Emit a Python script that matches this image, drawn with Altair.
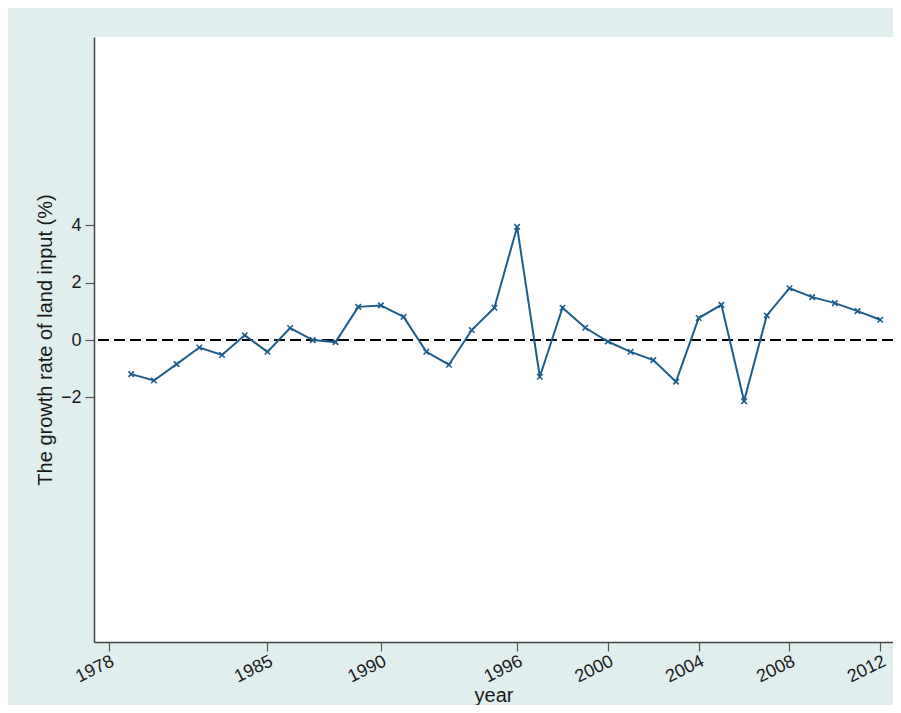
import altair as alt
import pandas as pd

years = list(range(1979, 2013))
growth = [-1.19, -1.41, -0.84, -0.26, -0.52, 0.17, -0.41, 0.42, 0.0, -0.07,
          1.16, 1.21, 0.81, -0.41, -0.86, 0.35, 1.13, 3.95, -1.28, 1.13,
          0.43, -0.05, -0.41, -0.70, -1.45, 0.77, 1.23, -2.13, 0.86, 1.81,
          1.50, 1.29, 1.01, 0.71]
x_ticks = [1978, 1985, 1990, 1996, 2000, 2004, 2008, 2012]
y_ticks = [-2, 0, 2, 4]
ref_value = [0]

df = pd.DataFrame({"year": years, "growth": growth})
ref = pd.DataFrame({"y": ref_value})

FONT = "Liberation Sans"
LINE = "#1d5d8b"

xscale = alt.Scale(domain=[1977.36, 2012.56], nice=False, zero=False)
yscale = alt.Scale(domain=[-10.54, 10.58], nice=False, zero=False)

xaxis = alt.Axis(values=x_ticks, format="d", title="year", labelAngle=334,
                 labelAlign="right", labelBaseline="top", labelFontSize=18,
                 titleFontSize=20, tickSize=9, grid=False, labelPadding=1,
                 titleX=399.5, titleY=53, titleBaseline="middle",
                 titleAlign="center", labelFlush=False, labelOverlap=False)
yaxis = alt.Axis(values=y_ticks, format="d",
                 title="The growth rate of land input (%)", labelAngle=0,
                 labelFontSize=18, titleFontSize=20, tickSize=9, grid=False,
                 labelPadding=4, titleAngle=270, titleX=-49, titleY=302.5,
                 titleAlign="center", titleBaseline="middle",
                 labelFlush=False, labelOverlap=False)

rule = alt.Chart(ref).mark_rule(color="black", strokeWidth=2,
                                strokeDash=[11, 5]).encode(
    y=alt.Y("y:Q", scale=yscale, axis=yaxis)
)

line = alt.Chart(df).mark_line(color=LINE, strokeWidth=2).encode(
    x=alt.X("year:Q", scale=xscale, axis=xaxis),
    y=alt.Y("growth:Q", scale=yscale, axis=yaxis),
)

pts = alt.Chart(df).mark_point(shape="M-1,-1L1,1M1,-1L-1,1", size=30,
                               filled=False, strokeWidth=1.6,
                               color=LINE, opacity=1).encode(
    x=alt.X("year:Q", scale=xscale, axis=xaxis),
    y=alt.Y("growth:Q", scale=yscale, axis=yaxis),
)

chart = alt.layer(rule, line, pts).properties(
    width=799, height=605,
    autosize=alt.AutoSizeParams(type="none"),
    padding={"left": 86, "top": 29, "right": 0, "bottom": 63},
    background="#e1eeee",
).configure_view(
    stroke=None, fill="white"
).configure_axis(
    labelFont=FONT, titleFont=FONT, labelColor="#1a1a1a",
    titleColor="#1a1a1a", titleFontWeight="normal",
    domainColor="#444444", domainWidth=1.5, tickColor="#555555",
    tickWidth=1.2,
)

chart.save("out.html", embed_options={"renderer": "svg", "actions": False})
